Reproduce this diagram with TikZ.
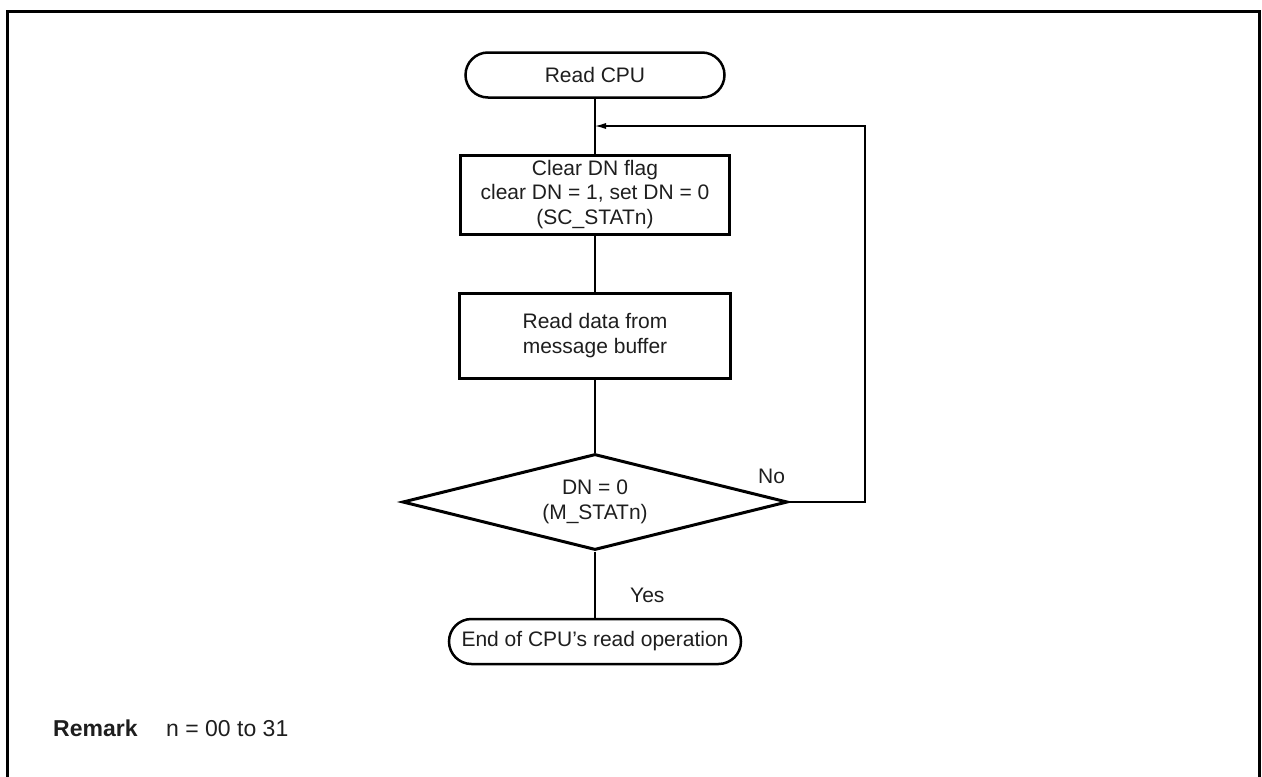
\documentclass[tikz,border=0pt]{standalone}
\usepackage{fontspec}
\setmainfont{Liberation Sans}
\usetikzlibrary{shapes.geometric,shapes.misc,arrows.meta}
\definecolor{txt}{HTML}{1E1E1E}
\begin{document}
\begin{tikzpicture}[x=1pt,y=-1pt,
  every node/.style={font=\fontsize{21}{24.5}\selectfont, text=txt},
  term/.style={draw=black, line width=2.5pt, rounded rectangle, minimum height=45pt, inner sep=0pt},
  procbox/.style={draw=black, line width=3pt, align=center, inner sep=0pt},
  decision/.style={draw=black, line width=3pt, diamond, shape aspect=4, minimum width=385pt, minimum height=96pt, inner sep=0pt, align=center},
  conn/.style={line width=1.2pt},
  lbl/.style={inner sep=0pt},
  frame/.style={line width=3pt}]
\useasboundingbox (0,0) rectangle (1262,777);
\draw[frame] (7,800) -- (7,11) -- (1259,11) -- (1259,800);

\node[term, minimum width=259pt] (start) at (595,75) {Read CPU};
\node[procbox, minimum width=269pt, minimum height=79pt] (clr) at (595,194.5) {Clear DN flag\\clear DN = 1, set DN = 0\\(SC\_STATn)};
\node[procbox, minimum width=271pt, minimum height=85pt] (rd) at (595,335.5) {Read data from\\message buffer};
\node[decision] (dec) at (595,502) {DN = 0\\(M\_STATn)};
\node[term, minimum width=292pt] (fin) at (595,641.5) {End of CPU's read operation};

\coordinate (loopc) at (865,126);
\coordinate (join) at (595,126);

\draw[conn] (start.south) -- (clr.north);
\draw[conn] (clr.south) -- (rd.north);
\draw[conn] (rd.south) -- (dec.north);
\draw[conn] (dec.south) -- (fin.north);
\draw[conn, -{Latex[length=11pt,width=6pt]}] (dec.east) -| (loopc) -- (join);

\node[lbl, anchor=base west] (no) at (758,483) {No};
\node[lbl, anchor=base west] (yes) at (630,602) {Yes};

\node[lbl, anchor=base west, font=\fontsize{23}{27}\selectfont\bfseries] (rem) at (53,736) {Remark};
\node[lbl, anchor=base west, font=\fontsize{23}{27}\selectfont] (remt) at (166,736) {n = 00 to 31};
\end{tikzpicture}
\end{document}
